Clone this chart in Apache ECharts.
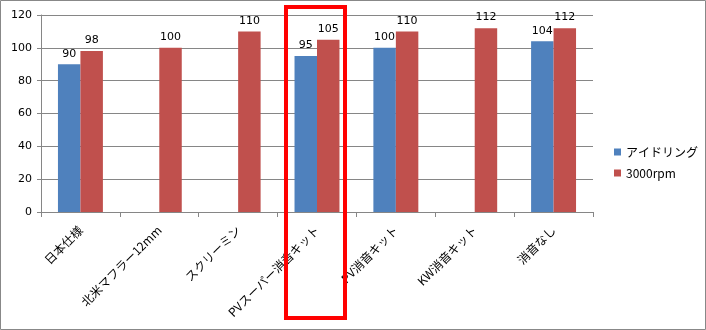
<!DOCTYPE html>
<html><head><meta charset="utf-8">
<script src="https://cdn.jsdelivr.net/npm/echarts@6/dist/echarts.min.js"></script>
<style>html,body{margin:0;padding:0;background:#fff}#c{width:706px;height:330px}</style>
</head><body><div id="c"></div>
<script>
const categories = ['日本仕様','北米マフラー12mm','スクリーミン','PVスーパー消音キット','PV消音キット','KW消音キット','消音なし'];
const idling = [90, null, null, 95, 100, null, 104];
const rpm3000 = [98, 100, 110, 105, 110, 112, 112];
const seriesNames = ['アイドリング','3000rpm'];
const highlightIndex = 3;

const chart = echarts.init(document.getElementById('c'));
const numFont = 'Verdana, "DejaVu Sans", sans-serif';
const jpFont = '"Noto Sans CJK JP", sans-serif';
const lbl = {show:true, position:'top', color:'#000', fontSize:11, fontFamily:numFont, distance:5};
chart.setOption({
  animation:false,
  grid:{left:41, right:113, top:15, bottom:118, containLabel:false},
  legend:{orient:'vertical', left:609, top:141, itemWidth:7, itemHeight:7, itemGap:9, icon:'rect',
    textStyle:{fontSize:12, fontFamily:jpFont, color:'#000'}, data:seriesNames},
  xAxis:{type:'category', data:categories,
    axisLine:{lineStyle:{color:'#868686'}},
    axisTick:{show:true, length:5, lineStyle:{color:'#868686'}},
    axisLabel:{rotate:45, interval:0, fontSize:12, fontFamily:jpFont, color:'#000', margin:16}},
  yAxis:{type:'value', min:0, max:120, interval:20,
    axisLine:{show:true, lineStyle:{color:'#868686'}},
    axisTick:{show:true, length:4, lineStyle:{color:'#868686'}},
    splitLine:{lineStyle:{color:'#868686'}},
    axisLabel:{fontSize:11, fontFamily:numFont, color:'#000', margin:9}},
  series:[
    {name:seriesNames[0], type:'bar', data:idling, barGap:'0%', barCategoryGap:'43%',
     itemStyle:{color:'#4F81BD'}, label:lbl},
    {name:seriesNames[1], type:'bar', data:rpm3000, barGap:'0%', barCategoryGap:'43%',
     itemStyle:{color:'#C0504D'}, label:lbl}
  ]
});
const cx = chart.convertToPixel({xAxisIndex:0}, categories[highlightIndex]);
chart.setOption({graphic:[
  {type:'rect', shape:{x:0.5, y:0.5, width:705, height:329}, style:{fill:null, stroke:'#888', lineWidth:1}, silent:true},
  {type:'rect', shape:{x:cx-31, y:7, width:59, height:311}, style:{fill:null, stroke:'#FF0000', lineWidth:4}, silent:true, z:100}
]});
</script></body></html>
